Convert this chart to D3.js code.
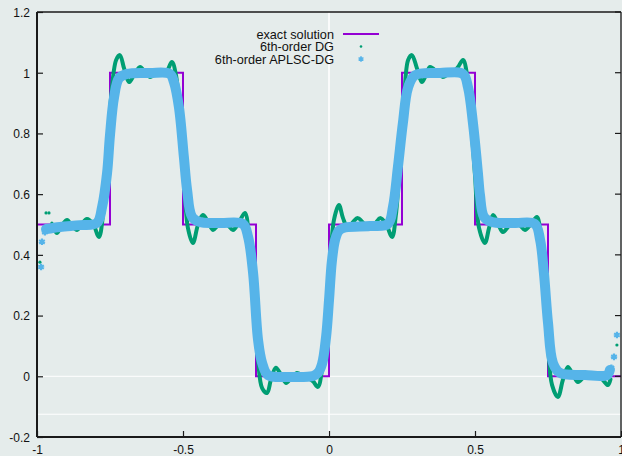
<!DOCTYPE html>
<html>
<head>
<meta charset="utf-8">
<script src="https://cdn.jsdelivr.net/npm/d3@7/dist/d3.min.js"></script>
<style>
  html, body { margin: 0; padding: 0; background: #e5eceb; }
  svg { display: block; }
  text { font-family: "Liberation Sans", Arial, sans-serif; fill: #111; }
</style>
</head>
<body>
<svg id="chart" width="622" height="456"></svg>
<script>
// Axis ticks
const xTickValues = [-1, -0.5, 0, 0.5, 1];
const xTickLabels = ["-1", "-0.5", "0", "0.5", "1"];
const yTickValues = [-0.2, 0, 0.2, 0.4, 0.6, 0.8, 1, 1.2];
const yTickLabels = ["-0.2", "0", "0.2", "0.4", "0.6", "0.8", "1", "1.2"];

// Exact solution: piecewise-constant levels starting at each breakpoint
const exactBreaks = [-1, -0.75, -0.5, -0.25, 0, 0.25, 0.5, 0.75, 1];
const exactLevels = [0.5, 1, 0.5, 0, 0.5, 1, 0.5, 0, 0];

// 6th-order DG numerical solution
const dgX = [-0.945, -0.932, -0.914, -0.897, -0.880, -0.863, -0.846, -0.829, -0.808, -0.788,
  -0.774, -0.760, -0.747, -0.729, -0.716, -0.702, -0.685, -0.668, -0.647, -0.630,
  -0.613, -0.596, -0.579, -0.558, -0.538, -0.524, -0.510, -0.497, -0.483, -0.466,
  -0.449, -0.432, -0.414, -0.397, -0.380, -0.363, -0.346, -0.329, -0.308, -0.288,
  -0.271, -0.257, -0.243, -0.229, -0.212, -0.199, -0.182, -0.164, -0.147, -0.130,
  -0.110, -0.092, -0.072, -0.055, -0.038, -0.024, -0.010, 0.003, 0.017, 0.034,
  0.048, 0.065, 0.082, 0.099, 0.120, 0.140, 0.158, 0.175, 0.195, 0.216,
  0.229, 0.243, 0.257, 0.271, 0.284, 0.301, 0.318, 0.332, 0.346, 0.370,
  0.390, 0.408, 0.425, 0.442, 0.459, 0.473, 0.486, 0.500, 0.514, 0.534,
  0.548, 0.562, 0.579, 0.596, 0.616, 0.637, 0.654, 0.671, 0.692, 0.712,
  0.726, 0.736, 0.750, 0.764, 0.784, 0.801, 0.818, 0.836, 0.853, 0.873,
  0.894, 0.914, 0.935, 0.955, 0.964];
const dgY = [0.495, 0.472, 0.498, 0.515, 0.495, 0.482, 0.502, 0.518, 0.502, 0.459,
  0.531, 0.712, 0.910, 1.042, 1.058, 1.015, 0.969, 0.992, 1.019, 1.002,
  0.986, 0.996, 1.002, 1.002, 1.035, 0.992, 0.844, 0.663, 0.488, 0.439,
  0.498, 0.531, 0.508, 0.482, 0.498, 0.508, 0.498, 0.482, 0.508, 0.538,
  0.416, 0.218, 0.053, -0.039, -0.055, -0.012, 0.028, 0.004, -0.022, -0.006,
  0.011, 0.004, -0.006, -0.016, -0.035, 0.021, 0.153, 0.350, 0.515, 0.564,
  0.521, 0.488, 0.508, 0.521, 0.502, 0.485, 0.502, 0.521, 0.502, 0.459,
  0.531, 0.712, 0.910, 1.042, 1.058, 1.015, 0.969, 0.992, 1.019, 1.002,
  0.986, 0.996, 1.002, 1.019, 1.042, 0.992, 0.844, 0.663, 0.488, 0.439,
  0.488, 0.531, 0.502, 0.475, 0.495, 0.508, 0.498, 0.482, 0.502, 0.525,
  0.449, 0.284, 0.103, -0.029, -0.068, -0.012, 0.031, 0.004, -0.019, -0.002,
  0.011, 0.001, -0.009, -0.029, -0.010];
// DG values that sit apart from the main curve near the boundaries
const dgEdgeX = [-0.990, -0.969, -0.959, -0.949, 0.970, 0.986];
const dgEdgeY = [0.376, 0.538, 0.538, 0.505, 0.028, 0.103];

// 6th-order APLSC-DG numerical solution
const aplscX = [-0.969, -0.921, -0.853, -0.795, -0.777, -0.760, -0.750, -0.736, -0.719, -0.692,
  -0.613, -0.545, -0.531, -0.514, -0.497, -0.486, -0.469, -0.442, -0.373, -0.295,
  -0.277, -0.260, -0.243, -0.229, -0.209, -0.134, -0.055, -0.038, -0.024, -0.010,
  0, 0.010, 0.021, 0.034, 0.055, 0.140, 0.202, 0.219, 0.236, 0.253,
  0.271, 0.295, 0.380, 0.459, 0.476, 0.493, 0.510, 0.517, 0.531, 0.558,
  0.637, 0.705, 0.723, 0.736, 0.750, 0.767, 0.791, 0.877, 0.952, 0.962];
const aplscY = [0.485, 0.492, 0.498, 0.505, 0.558, 0.670, 0.795, 0.920, 0.982, 0.996,
  0.999, 0.996, 0.969, 0.887, 0.722, 0.614, 0.525, 0.508, 0.505, 0.502,
  0.459, 0.340, 0.120, 0.044, 0.004, -0.002, 0.001, 0.011, 0.040, 0.130,
  0.250, 0.380, 0.450, 0.480, 0.490, 0.495, 0.502, 0.558, 0.689, 0.834,
  0.952, 0.992, 0.999, 0.996, 0.952, 0.834, 0.670, 0.597, 0.525, 0.508,
  0.505, 0.502, 0.449, 0.340, 0.176, 0.044, 0.011, 0.004, 0.004, 0.021];
// APLSC-DG values that sit apart from the main curve near the boundaries
const aplscEdgeX = [-0.986, -0.983, -0.973, 0.967, 0.976, 0.986];
const aplscEdgeY = [0.360, 0.443, 0.475, 0.028, 0.064, 0.136];

const seriesNames = ["exact solution", "6th-order DG", "6th-order APLSC-DG"];
const colors = { exact: "#9400d3", dg: "#009e73", aplsc: "#56b4e9" };

const svg = d3.select("#chart");
const W = 622, H = 456;
const plotLeft = 37, plotRight = 621, plotTop = 12, plotBottom = 437;

svg.append("rect").attr("width", W).attr("height", H).attr("fill", "#e5eceb");

const x = d3.scaleLinear().domain([-1, 1]).range([plotLeft, plotRight]);
const y = d3.scaleLinear().domain([-0.2, 1.2]).range([plotBottom, plotTop]);

// White zero axes and reference line
const guides = svg.append("g").attr("stroke", "#ffffff");
guides.append("line").attr("x1", x(0)).attr("x2", x(0)).attr("y1", plotTop).attr("y2", plotBottom).attr("stroke-width", 1.6);
guides.append("line").attr("x1", plotLeft).attr("x2", plotRight).attr("y1", y(0)).attr("y2", y(0)).attr("stroke-width", 1);
guides.append("line").attr("x1", plotLeft).attr("x2", plotRight).attr("y1", y(-0.125)).attr("y2", y(-0.125)).attr("stroke-width", 1);

const plot = svg.append("g");

// Exact solution as a step line
const exactPts = exactBreaks.map((b, i) => [b, exactLevels[i]]);
plot.append("path")
  .datum(exactPts)
  .attr("fill", "none")
  .attr("stroke", colors.exact)
  .attr("stroke-width", 2)
  .attr("d", d3.line().x(d => x(d[0])).y(d => y(d[1])).curve(d3.curveStepAfter));

// DG solution
const dgPts = dgX.map((v, i) => [v, dgY[i]]);
plot.append("path")
  .datum(dgPts)
  .attr("fill", "none")
  .attr("stroke", colors.dg)
  .attr("stroke-width", 4)
  .attr("stroke-linejoin", "round")
  .attr("stroke-linecap", "round")
  .attr("d", d3.line().x(d => x(d[0])).y(d => y(d[1])).curve(d3.curveCatmullRom.alpha(0.5)));
plot.append("g").selectAll("circle")
  .data(dgEdgeX.map((v, i) => [v, dgEdgeY[i]]))
  .join("circle")
  .attr("cx", d => x(d[0])).attr("cy", d => y(d[1])).attr("r", 1.6)
  .attr("fill", colors.dg);

// APLSC-DG solution
const aplscPts = aplscX.map((v, i) => [v, aplscY[i]]);
plot.append("path")
  .datum(aplscPts)
  .attr("fill", "none")
  .attr("stroke", colors.aplsc)
  .attr("stroke-width", 10)
  .attr("stroke-linejoin", "round")
  .attr("stroke-linecap", "round")
  .attr("d", d3.line().x(d => x(d[0])).y(d => y(d[1])).curve(d3.curveCatmullRom.alpha(0.5)));
const star = d3.symbol().type(d3.symbolAsterisk).size(30);
plot.append("g").selectAll("path")
  .data(aplscEdgeX.map((v, i) => [v, aplscEdgeY[i]]))
  .join("path")
  .attr("transform", d => `translate(${x(d[0])},${y(d[1])})`)
  .attr("d", star)
  .attr("fill", "none")
  .attr("stroke", colors.aplsc)
  .attr("stroke-width", 2.2);

// Frame
const frame = svg.append("g").attr("stroke", "#1a1a1a").attr("fill", "none");
frame.append("line").attr("x1", plotLeft).attr("x2", plotRight).attr("y1", plotTop).attr("y2", plotTop).attr("stroke-width", 1.3);
frame.append("line").attr("x1", plotRight).attr("x2", plotRight).attr("y1", plotTop).attr("y2", plotBottom).attr("stroke-width", 1.3);
frame.append("line").attr("x1", plotLeft).attr("x2", plotLeft).attr("y1", plotTop).attr("y2", plotBottom).attr("stroke-width", 2);
frame.append("line").attr("x1", plotLeft).attr("x2", plotRight).attr("y1", plotBottom).attr("y2", plotBottom).attr("stroke-width", 2);

// Axes with inward ticks
const xAxis = d3.axisBottom(x).tickValues(xTickValues)
  .tickFormat((d, i) => xTickLabels[i]).tickSizeInner(-6).tickSizeOuter(0).tickPadding(8.5);
const gx = svg.append("g").attr("transform", `translate(0,${plotBottom})`).call(xAxis);
gx.select(".domain").remove();
gx.selectAll("line").attr("stroke", "#1a1a1a").attr("stroke-width", 1.2);
gx.selectAll("text").style("font-size", "12px").attr("fill", "#111");

const yAxis = d3.axisLeft(y).tickValues(yTickValues)
  .tickFormat((d, i) => yTickLabels[i]).tickSizeInner(-6).tickSizeOuter(0).tickPadding(7);
const gy = svg.append("g").attr("transform", `translate(${plotLeft},0)`).call(yAxis);
gy.select(".domain").remove();
gy.selectAll("line").attr("stroke", "#1a1a1a").attr("stroke-width", 1.2);
gy.selectAll("text").style("font-size", "12px").attr("fill", "#111").attr("dy", "0.36em");

// Mirrored ticks on the right border
svg.append("g").selectAll("line")
  .data(yTickValues)
  .join("line")
  .attr("x1", plotRight - 6).attr("x2", plotRight)
  .attr("y1", d => y(d)).attr("y2", d => y(d))
  .attr("stroke", "#1a1a1a").attr("stroke-width", 1.2);

// Legend
const legend = svg.append("g");
const rowY = [34, 46.5, 59];
legend.selectAll("text")
  .data(seriesNames)
  .join("text")
  .attr("x", 334).attr("y", (d, i) => rowY[i]).attr("dy", "0.36em")
  .attr("text-anchor", "end")
  .style("font-size", "12.7px")
  .text(d => d);
legend.append("line")
  .attr("x1", 343).attr("x2", 379).attr("y1", rowY[0]).attr("y2", rowY[0])
  .attr("stroke", colors.exact).attr("stroke-width", 2);
legend.append("circle").attr("cx", 361).attr("cy", rowY[1]).attr("r", 1.3).attr("fill", colors.dg);
legend.append("path")
  .attr("transform", `translate(361,${rowY[2]})`)
  .attr("d", d3.symbol().type(d3.symbolAsterisk).size(22))
  .attr("fill", "none").attr("stroke", colors.aplsc).attr("stroke-width", 1.6);
</script>
</body>
</html>
